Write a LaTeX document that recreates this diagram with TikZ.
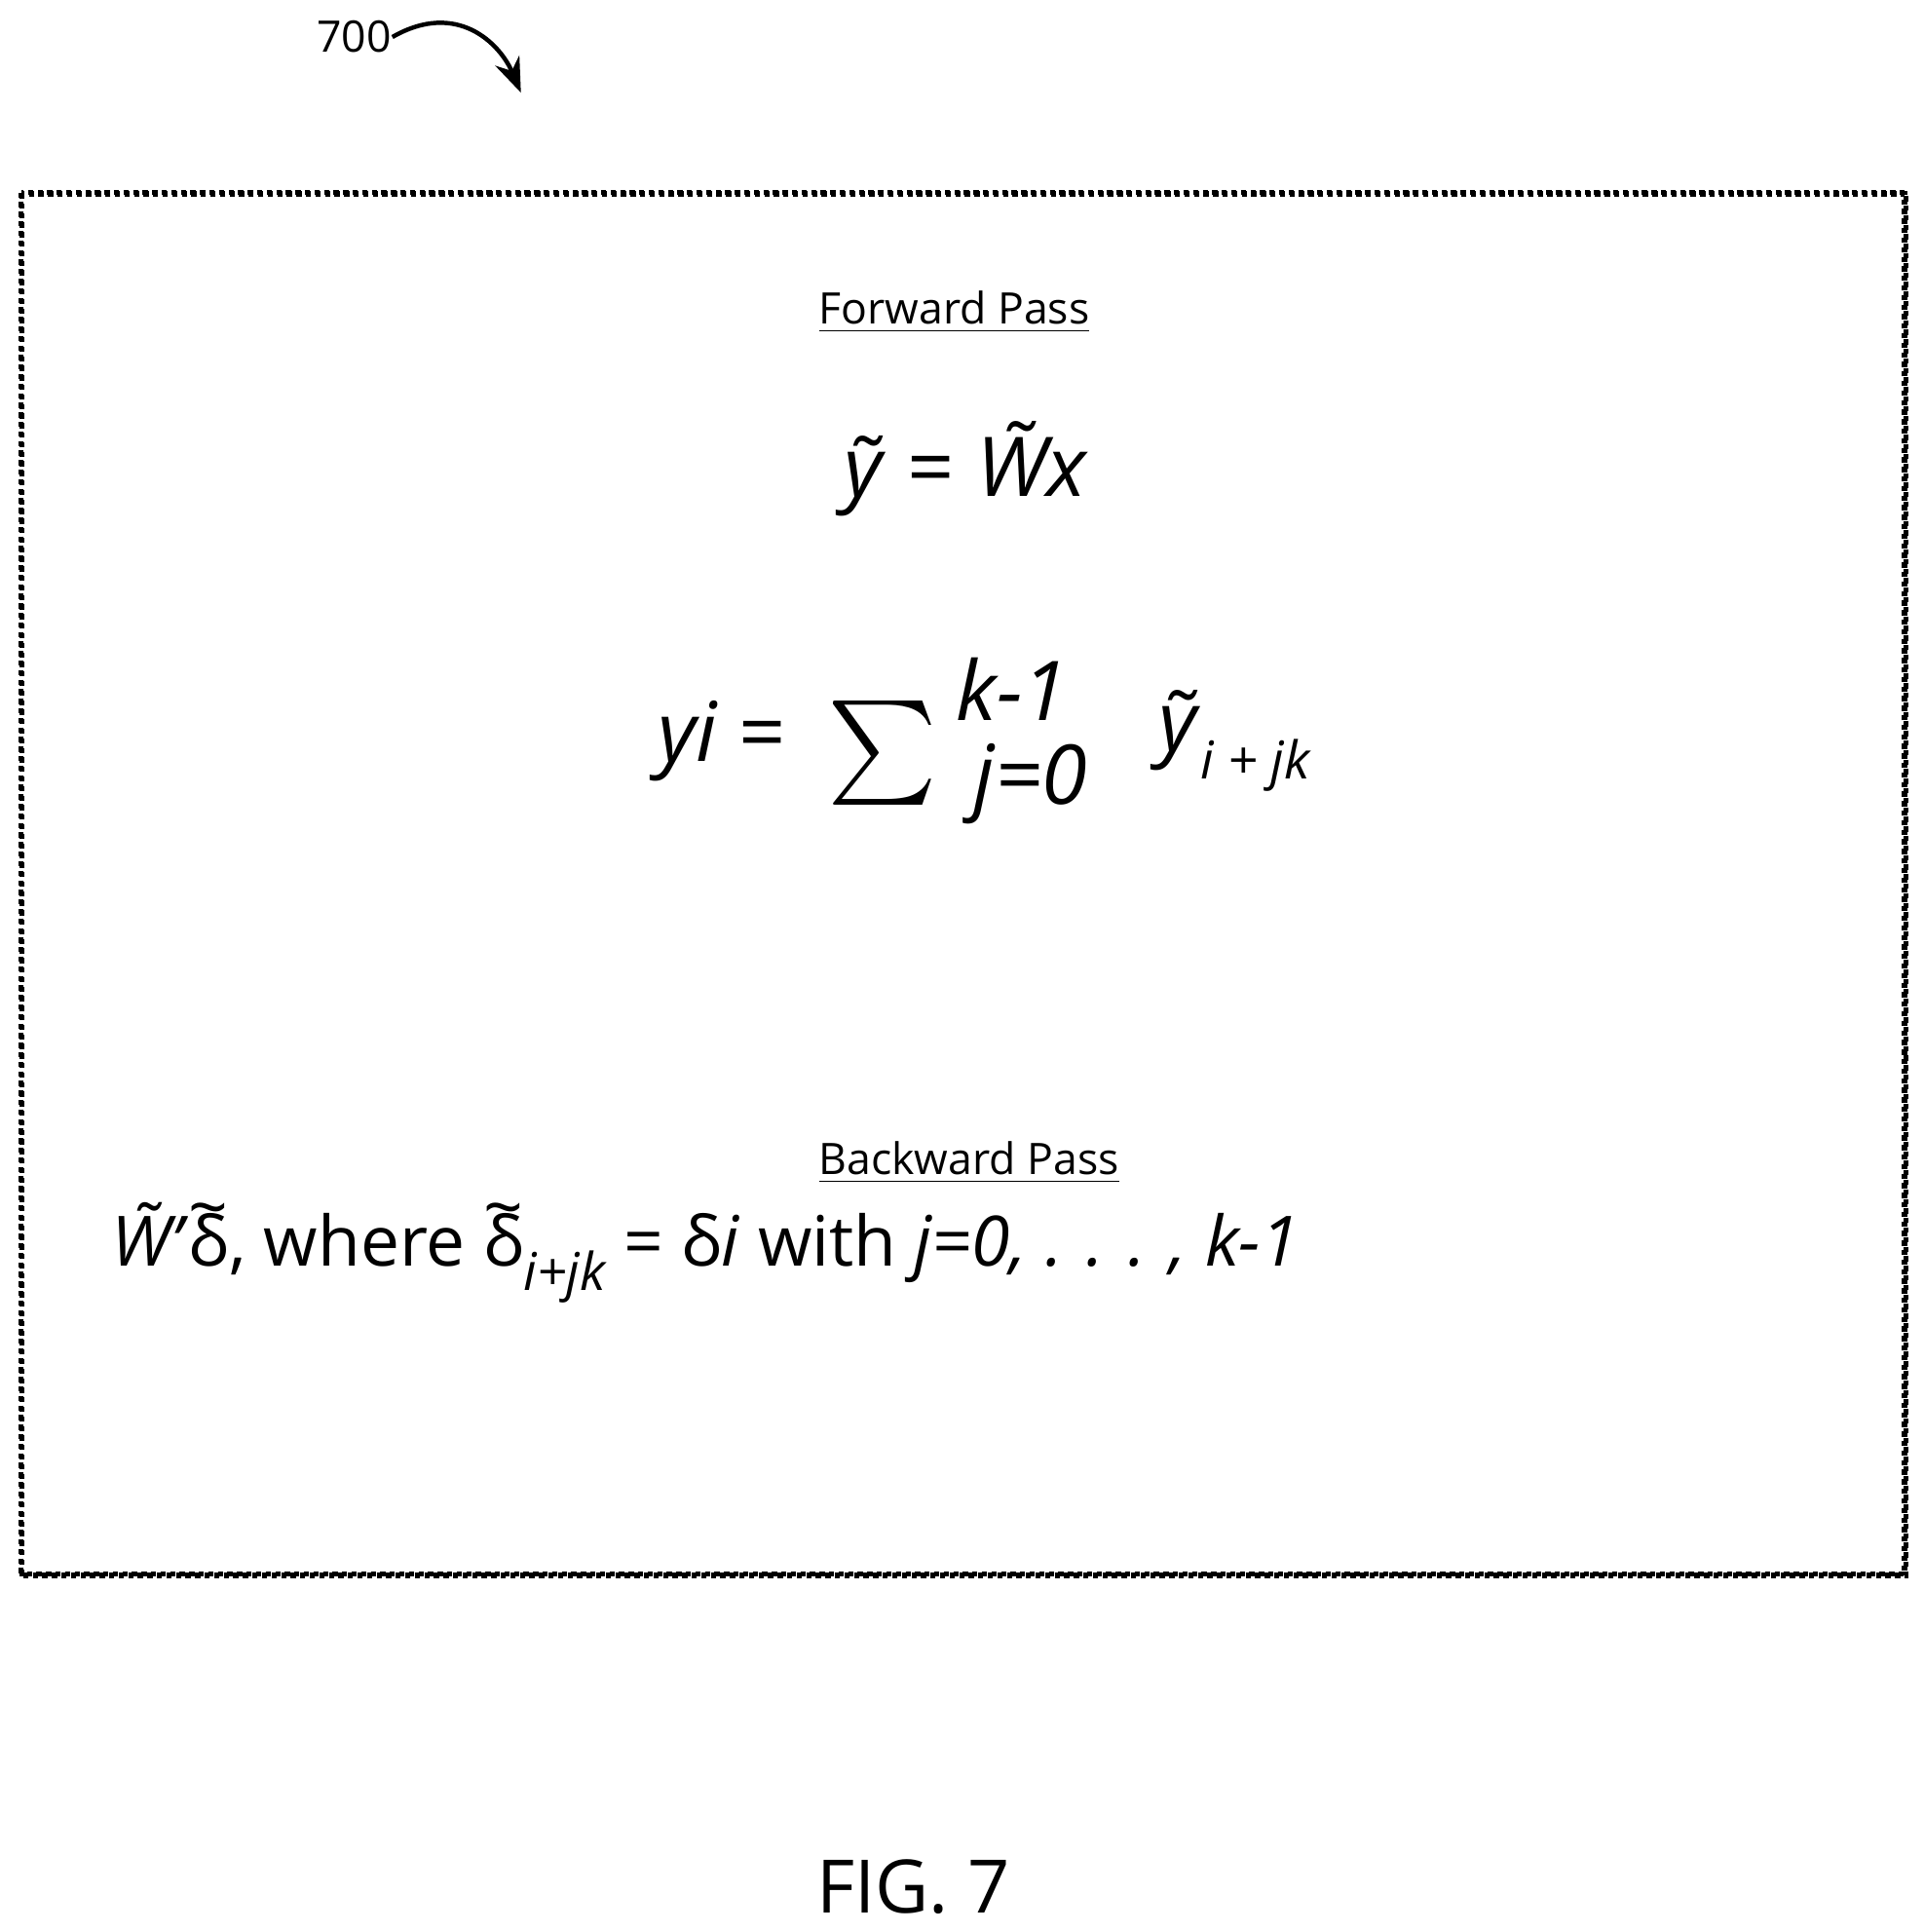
\documentclass[tikz,border=0pt]{standalone}
\usepackage{fontspec}
\usepackage{graphicx}
\setmainfont{Open Sans}
\usetikzlibrary{arrows.meta}
\newcommand{\sbx}[1]{\raisebox{-0.35em}{\fontsize{12}{14}\selectfont\itshape #1}}
\newcommand{\tdl}{\ooalign{δ\cr\hidewidth\raisebox{0.5em}{\char"007E}\hidewidth}}
\tikzset{lbl/.style={inner sep=0pt,font=\fontsize{10}{12}\selectfont},
eq/.style={inner sep=0pt,font=\fontsize{19}{22}\selectfont}}
\begin{document}
\begin{tikzpicture}[x=0.01cm,y=-0.01cm]
\useasboundingbox (0,0) rectangle (1558,1565);
\draw[line width=1.2pt,densely dotted] (17,156) rectangle (1544,1276);
\draw[line width=1.2pt,densely dotted] (18,157) rectangle (1543,1275);
\node[lbl] (n700) at (287,30) {700};
\coordinate (a700) at (422,75);
\draw[line width=1pt,-{Stealth[length=8pt]}] (n700.east) .. controls (370,0) and (405,35) .. (a700);
\node[lbl] (fp) at (773,253) {\underline{Forward Pass}};
\node[eq] (e1) at (783,380) {\textit{\~{y}} = \textit{\~{W}x}};
\node[eq] (yi) at (585,600) {\textit{yi} =};
\node[inner sep=0pt] (sig) at (715,610) {\scalebox{2.4}{$\sum$}};
\node[eq] (up) at (820,558) {\textit{k-1}};
\node[eq] (lo) at (835,635) {\textit{j=0}};
\node[eq] (yt) at (1000,600) {\textit{\~{y}}\sbx{i + jk}};
\node[lbl] (bp) at (785,942) {\underline{Backward Pass}};
\node[eq,font=\fontsize{16}{20}\selectfont,anchor=west] (e3) at (90,1015) {\textit{\~{W}'}\tdl, where \tdl\sbx{i+jk} = δ\textit{i} with \textit{j=0, . . . , k-1}};
\node[inner sep=0pt,font=\fontsize{17}{20}\selectfont] (fig) at (740,1528) {FIG. 7};
\end{tikzpicture}
\end{document}
